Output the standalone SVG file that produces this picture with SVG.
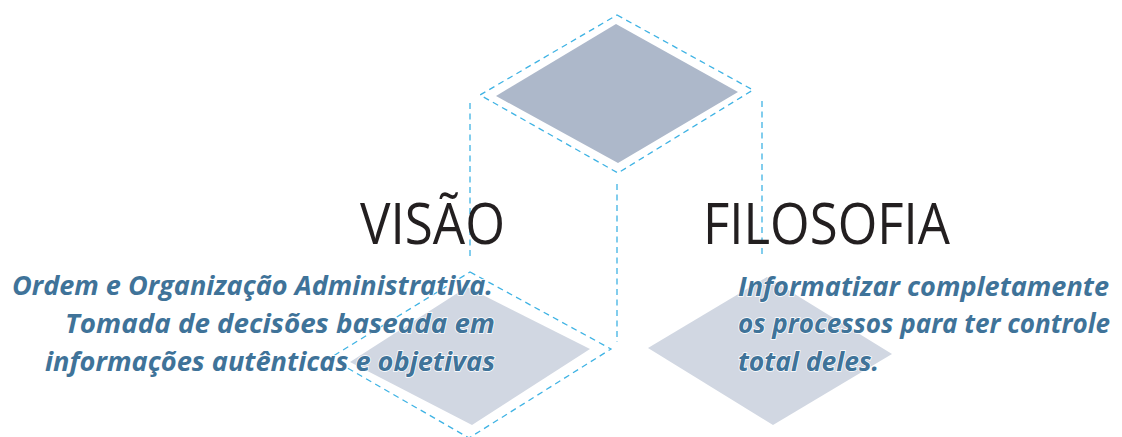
<svg xmlns="http://www.w3.org/2000/svg" width="1122" height="437" viewBox="0 0 1122 437">
<style>
.dash{fill:none;stroke:#3fb3e4;stroke-width:1.3;stroke-dasharray:6 4.5}
.title{font-family:"Open Sans","Liberation Sans",sans-serif;font-size:56px;fill:#231f20}
.body{font-family:"Open Sans","Liberation Sans",sans-serif;font-size:27.5px;font-weight:700;font-style:italic;fill:#3f7399;stroke:#fff;stroke-width:1.5;paint-order:stroke}
</style>
<rect width="1122" height="437" fill="#fff"/>
<g id="top-face">
<polygon points="616,24 738,92 618,163 496,96" fill="#adb8ca"/>
<polygon class="dash" points="617,15 753,90 618,173 480,95"/>
</g>
<g id="visao-face">
<polygon points="467,287 590,349 472,425 350,362" fill="#d1d7e2"/>
<polygon class="dash" points="470,272 611,349 469,438 330,358"/>
</g>
<g id="filosofia-face">
<polygon points="767,277 892,354 773,425 648,348" fill="#d1d7e2"/>
</g>
<g id="connectors">
<line class="dash" x1="470" y1="103" x2="470" y2="258"/>
<line class="dash" x1="617" y1="184" x2="617" y2="342"/>
<line class="dash" x1="762" y1="101" x2="762" y2="255"/>
</g>
<g id="visao">
<text class="title" x="360" y="244" textLength="145" lengthAdjust="spacingAndGlyphs">VISÃO</text>
<text class="body" x="493" y="295" text-anchor="end" textLength="481" lengthAdjust="spacingAndGlyphs">Ordem e Organização Administrativa.</text>
<text class="body" x="495" y="333" text-anchor="end" textLength="430" lengthAdjust="spacingAndGlyphs">Tomada de decisões baseada em</text>
<text class="body" x="495" y="371" text-anchor="end" textLength="450" lengthAdjust="spacingAndGlyphs">informações autênticas e objetivas</text>
</g>
<g id="filosofia">
<text class="title" x="703" y="244" textLength="247" lengthAdjust="spacingAndGlyphs">FILOSOFIA</text>
<text class="body" x="738" y="296" textLength="371" lengthAdjust="spacingAndGlyphs">Informatizar completamente</text>
<text class="body" x="738" y="333" style="font-size:26.5px" textLength="372" lengthAdjust="spacingAndGlyphs">os processos para ter controle</text>
<text class="body" x="738" y="371" textLength="141" lengthAdjust="spacingAndGlyphs">total deles.</text>
</g>
</svg>
